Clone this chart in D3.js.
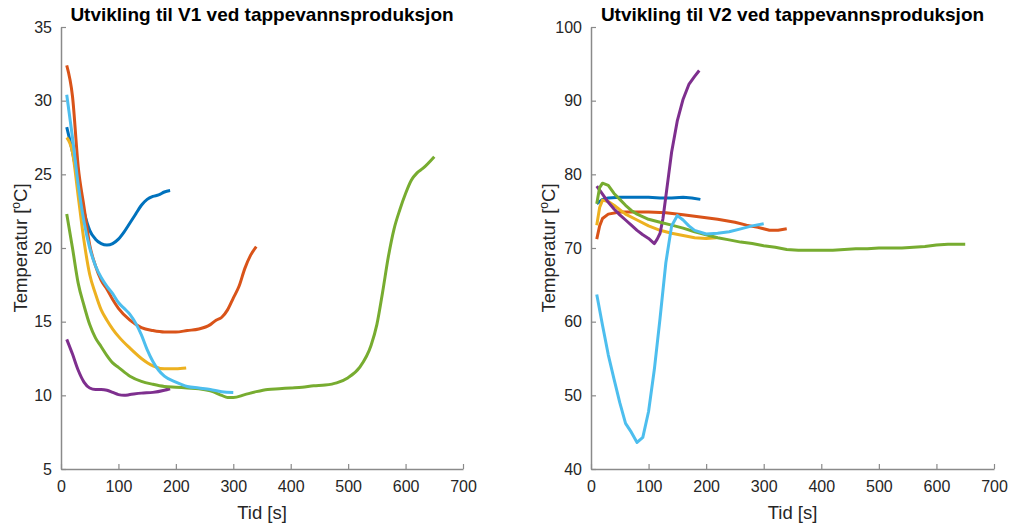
<!DOCTYPE html>
<html><head><meta charset="utf-8">
<script src="https://cdn.jsdelivr.net/npm/d3@7"></script>
<style>body{margin:0;background:#fff}svg{display:block;font-family:"Liberation Sans",Arial,sans-serif}</style>
</head><body><svg id="c" width="1009" height="526"></svg>
<script>
const colors = ["#0072BD","#D95319","#EDB120","#7E2F8E","#77AC30","#4DBEEE"];
const xTicks = [0,100,200,300,400,500,600,700];
const yTicksV1 = [5,10,15,20,25,30,35];
const yTicksV2 = [40,50,60,70,80,90,100];
const titles = ["Utvikling til V1 ved tappevannsproduksjon","Utvikling til V2 ved tappevannsproduksjon"];

// V1 series [time, temperature]
const v1Blue = [[10,28.2],[20,26.5],[30,24.5],[40,22.5],[50,21.2],[60,20.6],[70,20.3],[80,20.2],[90,20.3],[100,20.6],[110,21.1],[120,21.7],[130,22.3],[140,22.9],[150,23.3],[160,23.5],[170,23.6],[180,23.8],[190,23.9]];
const v1Orange = [[10,32.4],[20,30.3],[30,25.5],[40,22.8],[50,20.2],[60,18.8],[70,17.8],[80,17.2],[90,16.5],[100,15.9],[120,15.1],[140,14.6],[160,14.4],[180,14.3],[200,14.3],[220,14.4],[240,14.5],[260,14.8],[270,15.1],[280,15.3],[290,15.8],[300,16.6],[310,17.4],[320,18.6],[330,19.5],[340,20.1]];
const v1Yellow = [[10,27.5],[20,26.5],[30,23.5],[40,20.5],[50,18.2],[60,16.9],[70,15.8],[80,15.1],[90,14.5],[100,14.0],[120,13.2],[140,12.5],[160,12.0],[180,11.8],[200,11.8],[218,11.85]];
const v1Purple = [[10,13.8],[20,12.8],[30,11.7],[40,10.9],[50,10.5],[60,10.4],[70,10.4],[80,10.35],[90,10.2],[100,10.05],[110,10.0],[120,10.05],[140,10.15],[160,10.2],[180,10.35],[190,10.45]];
const v1Green = [[10,22.3],[20,20],[30,17.6],[40,16.1],[50,14.8],[60,13.9],[70,13.3],[80,12.7],[90,12.2],[100,11.9],[120,11.3],[140,10.95],[160,10.75],[180,10.6],[200,10.55],[220,10.5],[240,10.45],[260,10.3],[280,10.0],[290,9.85],[300,9.85],[320,10.05],[340,10.25],[360,10.4],[380,10.45],[400,10.5],[420,10.55],[440,10.65],[460,10.7],[480,10.85],[500,11.2],[520,11.9],[540,13.4],[550,14.8],[560,17.0],[570,19.4],[580,21.3],[590,22.6],[600,23.7],[610,24.6],[620,25.1],[630,25.4],[650,26.2]];
const v1Cyan = [[10,30.4],[20,27.5],[30,24.3],[40,21.8],[50,20.0],[60,18.8],[70,18.0],[80,17.4],[90,16.9],[100,16.3],[110,15.9],[120,15.5],[130,14.9],[140,14.1],[150,13.1],[160,12.3],[170,11.7],[180,11.3],[200,10.9],[220,10.6],[240,10.5],[260,10.4],[280,10.25],[300,10.2]];

// V2 series
const v2Blue = [[10,76.0],[20,76.6],[30,76.8],[50,76.9],[80,76.9],[100,76.9],[120,76.8],[140,76.8],[160,76.9],[175,76.8],[190,76.6]];
const v2Orange = [[10,71.2],[15,73],[20,74],[30,74.6],[50,74.9],[70,74.9],[100,74.9],[130,74.8],[160,74.5],[190,74.2],[220,73.9],[250,73.5],[270,73.1],[290,72.8],[310,72.4],[325,72.4],[340,72.6]];
const v2Yellow = [[10,73.1],[15,75.5],[20,76.5],[30,76.3],[40,75.8],[50,75.2],[60,74.6],[80,73.8],[100,73.0],[120,72.4],[140,72.0],[160,71.7],[180,71.4],[200,71.3],[218,71.4]];
const v2Purple = [[10,78.4],[20,77.3],[30,76.2],[40,75.3],[50,74.5],[60,73.8],[70,73.1],[80,72.4],[90,71.8],[100,71.3],[110,70.6],[115,71.2],[120,72.0],[125,74.0],[130,77.0],[135,80.0],[140,83.0],[150,87.3],[160,90.2],[170,92.2],[180,93.3],[188,94.1]];
const v2Green = [[10,76.0],[15,78.2],[20,78.8],[30,78.5],[40,77.4],[50,76.6],[60,75.8],[70,75.1],[80,74.6],[100,73.9],[120,73.5],[140,73.1],[160,72.7],[180,72.2],[200,71.8],[220,71.4],[240,71.1],[260,70.8],[280,70.6],[300,70.3],[320,70.1],[340,69.8],[360,69.7],[380,69.7],[400,69.7],[420,69.7],[440,69.8],[460,69.9],[480,69.9],[500,70.0],[520,70.0],[540,70.0],[560,70.1],[580,70.2],[600,70.4],[620,70.5],[650,70.5]];
const v2Cyan = [[10,63.7],[20,59.5],[30,55.5],[40,52.2],[50,49.0],[60,46.2],[70,45.0],[80,43.6],[90,44.3],[100,47.8],[110,53.5],[120,60.5],[130,68.0],[140,73.0],[150,74.4],[160,73.8],[170,73.0],[180,72.4],[200,71.9],[220,72.0],[240,72.2],[260,72.6],[280,73.0],[300,73.3]];

const svg = d3.select("#c");
const panels = [
  {left:61, right:463, top:27, bottom:469, yDomain:[5,35], yTicks:yTicksV1, title:titles[0], ylx:21, curve:d3.curveMonotoneX,
   series:[v1Blue,v1Orange,v1Yellow,v1Purple,v1Green,v1Cyan]},
  {left:591, right:994, top:27, bottom:469, yDomain:[40,100], yTicks:yTicksV2, title:titles[1], ylx:549, curve:d3.curveLinear,
   series:[v2Blue,v2Orange,v2Yellow,v2Purple,v2Green,v2Cyan]}
];
const axisCol = "#8a8a8a", textCol = "#262626";

panels.forEach(p => {
  const x = d3.scaleLinear().domain([0,700]).range([p.left,p.right]);
  const y = d3.scaleLinear().domain(p.yDomain).range([p.bottom,p.top]);
  const g = svg.append("g");
  const xa = g.append("g").attr("transform",`translate(0,${p.bottom})`)
    .call(d3.axisBottom(x).tickValues(xTicks).tickSizeInner(-5).tickSizeOuter(0).tickPadding(12));
  const ya = g.append("g").attr("transform",`translate(${p.left},0)`)
    .call(d3.axisLeft(y).tickValues(p.yTicks).tickSizeInner(-5).tickSizeOuter(0).tickPadding(9));
  [xa,ya].forEach(a=>{
    a.select(".domain").attr("stroke",axisCol).attr("stroke-width",1.5);
    a.selectAll(".tick line").attr("stroke",axisCol).attr("stroke-width",1.2);
    a.selectAll(".tick text").attr("fill",textCol).style("font-size","16px").style("font-family","'Liberation Sans',Arial,sans-serif");
  });
  const line = d3.line().x(d=>x(d[0])).y(d=>y(d[1])).curve(p.curve);
  p.series.forEach((s,i)=>{
    g.append("path").datum(s).attr("d",line).attr("fill","none")
      .attr("stroke",colors[i]).attr("stroke-width",3).attr("stroke-linejoin","round");
  });
  g.append("text").attr("x",(p.left+p.right)/2).attr("y",21).attr("text-anchor","middle")
    .attr("font-weight","bold").attr("font-size","19px").attr("fill","#000").text(p.title);
  g.append("text").attr("x",(p.left+p.right)/2).attr("y",519).attr("text-anchor","middle")
    .attr("font-size","18.5px").attr("fill",textCol).text("Tid [s]");
  const yl = g.append("text").attr("transform",`translate(${p.ylx+6},${(p.top+p.bottom)/2}) rotate(-90)`)
    .attr("text-anchor","middle").attr("font-size","18.5px").attr("fill",textCol);
  yl.append("tspan").text("Temperatur [");
  yl.append("tspan").attr("font-size","12px").attr("dy","-7").text("o");
  yl.append("tspan").attr("dy","7").text("C]");
});
</script></body></html>
